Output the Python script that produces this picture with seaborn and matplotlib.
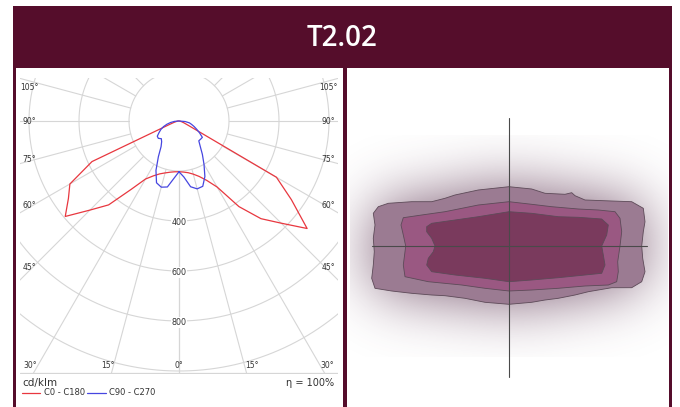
import numpy as np
import pandas as pd
import matplotlib
matplotlib.use("Agg")
import matplotlib.pyplot as plt
import seaborn as sns
from matplotlib.patches import Rectangle
from matplotlib.path import Path

W, H = 680, 407
MAROON = "#550d2b"
GRID = "#d6d6d6"
RED = "#e8373f"
BLUE = "#4646e0"

# luminous intensity, cd/klm, gamma in degrees (0 = straight down)
gamma_red = [0, 5, 10, 15, 20, 25, 30, 35, 40, 45, 50, 55, 60, 65, 70, 75, 80, 90, 180]
c0 = [203, 205, 210, 220, 236, 262, 305, 418, 510, 578, 669, 549, 450, 40, 20, 10, 5, 0, 0]
c180 = [203, 204, 208, 215, 225, 242, 268, 334, 438, 504, 594, 540, 504, 384, 40, 20, 10, 5, 0]

gamma_blue = [0, 5, 10, 15, 20, 25, 30, 35, 40, 45, 50, 55, 60, 65, 70, 75, 80, 85, 90, 180]
c90 = [203, 225, 267, 281, 278, 245, 200, 163, 132, 112, 113, 114, 95, 78, 64, 52, 42, 25, 0, 0]
c270 = [203, 230, 268, 274, 263, 218, 165, 125, 108, 100, 108, 106, 92, 80, 66, 50, 34, 18, 0, 0]

ring_values = [200, 400, 600, 800, 1000]
ring_labels = [400, 600, 800]
side_labels = ["105°", "90°", "75°", "60°", "45°"]
side_label_y = [136, 0, -156, -336, -584]
bottom_labels = ["30°", "15°", "0°", "15°", "30°"]
bottom_label_x = [-594, -286, 0, 290, 594]

# isolux outlines (luminaire at origin)
outer_x = [-13.57, -13.07, -12.07, -9.73, -7.73, -6.4, -5.4, -3.07, 0, 2.27, 3.6, 5.6, 6.27, 6.6, 7.6,
           10.27, 12.27, 13.43, 13.6, 13.43, 13.27, 13.37, 13.6, 13.27, 12.27, 10.27, 7.93, 6.6, 4.93,
           3.6, 2.27, 0, -2.4, -4.4, -6.4, -7.73, -9.73, -11.73, -13.4, -13.73, -13.57, -13.47, -13.57, -13.4]
outer_y = [3.27, 3.93, 4.27, 4.43, 4.43, 4.77, 5.1, 5.6, 5.93, 5.7, 5.27, 5.17, 5.33, 5.03, 4.6,
           4.5, 4.43, 3.77, 2.43, 1.43, 0, -1.23, -2.57, -3.57, -4.17, -4.17, -4.57, -4.9, -5.23,
           -5.4, -5.63, -5.83, -5.63, -5.23, -4.97, -4.9, -4.73, -4.5, -4.23, -3.23, -1.9, -0.57, 0.77, 2.1]
middle_x = [-10.8, -10.57, -8.73, -6.4, -3.07, 0, 2.27, 4.27, 6.93, 8.93, 10.6, 11.1, 11.27, 11.1,
            10.87, 10.93, 10.77, 9.93, 7.6, 4.93, 2.27, 0, -2.4, -4.73, -8.07, -10.4, -10.57, -10.4,
            -10.33, -10.57]
middle_y = [2.1, 2.83, 3.1, 3.43, 4.1, 4.43, 4.17, 3.93, 3.7, 3.6, 3.43, 2.77, 1.43, 0,
            -1.57, -2.57, -3.57, -3.9, -4.0, -4.23, -4.4, -4.5, -4.23, -3.9, -3.57, -3.07, -1.9, -0.57,
            0, 1.1]
inner_x = [-8.23, -8.23, -7.73, -5.4, -3.07, 0, 2.27, 4.93, 6.93, 9.27, 9.93, 9.77, 9.27, 9.43, 9.6,
           9.27, 7.6, 4.93, 2.27, 0, -2.4, -5.4, -7.73, -8.23, -8.07, -7.57, -7.4, -7.73]
inner_y = [1.43, 1.93, 2.27, 2.6, 2.93, 3.43, 3.27, 2.93, 2.87, 2.7, 2.1, 1.1, 0, -0.9, -1.9,
           -2.73, -2.9, -3.17, -3.4, -3.57, -3.23, -2.9, -2.57, -1.9, -1.23, -0.57, 0, 0.77]


def px_rect(x0, y0, x1, y1):
    return [x0 / W, 1 - y1 / H, (x1 - x0) / W, (y1 - y0) / H]


def to_xy(gam, vals, side):
    g = np.radians(gam)
    v = np.asarray(vals, float)
    return side * v * np.sin(g), -v * np.cos(g)


def blur(img, sigma):
    r = int(3 * sigma)
    k = np.exp(-0.5 * (np.arange(-r, r + 1) / sigma) ** 2)
    k /= k.sum()
    img = np.apply_along_axis(lambda v: np.convolve(v, k, mode="same"), 0, img)
    img = np.apply_along_axis(lambda v: np.convolve(v, k, mode="same"), 1, img)
    return img


sns.set_theme(style="white")
plt.rcParams["font.family"] = ["DejaVu Sans"]

fig = plt.figure(figsize=(W / 100, H / 100), dpi=100)
fig.patch.set_facecolor("white")

# frame, header, panels (pixel coordinates)
bg = fig.add_axes([0, 0, 1, 1], zorder=0)
bg.set_xlim(0, W)
bg.set_ylim(H, 0)
bg.axis("off")
bg.add_patch(Rectangle((13, 6), 659, 410, facecolor=MAROON, edgecolor="none"))
bg.add_patch(Rectangle((16, 68), 327, 350, facecolor="white", edgecolor="none"))
bg.add_patch(Rectangle((347, 68), 322, 350, facecolor="white", edgecolor="none"))
bg.text(342.5, 38, "T2.02", color="white", fontsize=20, fontfamily="Open Sans",
        fontweight="semibold", ha="center", va="center")

# legend under the polar diagram
bg.text(22, 383, "cd/klm", fontsize=7.5, color="#333333", ha="left", va="center")
bg.text(334, 383, "η = 100%", fontsize=7, color="#333333", ha="right", va="center")
bg.plot([22, 40], [392.5, 392.5], color=RED, lw=0.9)
bg.text(44, 392.5, "C0 - C180", fontsize=6, color="#333333", ha="left", va="center")
bg.plot([87, 106], [392.5, 392.5], color=BLUE, lw=0.9)
bg.text(109, 392.5, "C90 - C270", fontsize=6, color="#333333", ha="left", va="center")

# polar intensity diagram
ax = fig.add_axes(px_rect(20, 78, 338, 374), zorder=1)
ax.set_facecolor("white")
t = np.linspace(0, 2 * np.pi, 721)
for r in ring_values:
    ax.plot(r * np.sin(t), r * np.cos(t), color=GRID, lw=0.8, zorder=1)
for a in range(0, 181, 15):
    g = np.radians(a)
    for s in (-1, 1):
        ax.plot([s * 200 * np.sin(g), s * 2500 * np.sin(g)],
                [-200 * np.cos(g), -2500 * np.cos(g)], color=GRID, lw=0.8, zorder=1)
ax.axhline(-1008, color=GRID, lw=0.9, zorder=1)

xr1, yr1 = to_xy(gamma_red, c0, 1)
xr2, yr2 = to_xy(gamma_red[::-1], c180[::-1], -1)
xb1, yb1 = to_xy(gamma_blue, c90, 1)
xb2, yb2 = to_xy(gamma_blue[::-1], c270[::-1], -1)
curves = pd.concat([
    pd.DataFrame({"x": np.r_[xr1, xr2], "y": np.r_[yr1, yr2], "plane": "C0 - C180"}),
    pd.DataFrame({"x": np.r_[xb1, xb2], "y": np.r_[yb1, yb2], "plane": "C90 - C270"}),
], ignore_index=True)
sns.lineplot(data=curves, x="x", y="y", hue="plane", sort=False, estimator=None,
             palette={"C0 - C180": RED, "C90 - C270": BLUE}, lw=0.9, legend=False,
             ax=ax, zorder=3)

for v in ring_labels:
    ax.text(0, -v - 6, str(v), fontsize=5.8, color="#333333", ha="center", va="center", zorder=4,
            bbox=dict(facecolor="white", edgecolor="none", pad=0.6))
for lab, y in zip(side_labels, side_label_y):
    ax.text(-598, y, lab, fontsize=5.5, color="#333333", ha="center", va="center", zorder=4)
    ax.text(598, y, lab, fontsize=5.5, color="#333333", ha="center", va="center", zorder=4)
for lab, x in zip(bottom_labels, bottom_label_x):
    ax.text(x, -980, lab, fontsize=5.5, color="#333333", ha="center", va="center", zorder=4)

ax.set_xlim(-636, 636)
ax.set_ylim(-1012, 172)
ax.set_aspect("equal")
ax.axis("off")

# isolux diagram
ax2 = fig.add_axes(px_rect(347, 68, 669, 407), zorder=1)
gx = np.linspace(-15.9, 15.9, 319)
gy = np.linspace(-11.1, 11.1, 223)
XX, YY = np.meshgrid(gx, gy)
outline = Path(np.column_stack([outer_x, outer_y]))
mask = outline.contains_points(np.column_stack([XX.ravel(), YY.ravel()])).reshape(XX.shape)
glow = blur(mask.astype(float), 30)
rgba = np.zeros(XX.shape + (4,))
rgba[..., :3] = matplotlib.colors.to_rgb("#5e3552")
rgba[..., 3] = np.clip(glow * 0.8, 0, 1)
ax2.imshow(rgba, extent=[-15.9, 15.9, -11.1, 11.1], origin="lower",
           interpolation="bilinear", zorder=1)

ax2.fill(outer_x, outer_y, facecolor="#9b7b92", edgecolor="#5d4a58", lw=0.6, zorder=2)
ax2.fill(middle_x, middle_y, facecolor="#9a5882", edgecolor="#5d4a58", lw=0.6, zorder=3)
ax2.fill(inner_x, inner_y, facecolor="#7a3a5d", edgecolor="#5d4a58", lw=0.6, zorder=4)
ax2.plot([0, 0], [-13.1, 12.8], color="#4a4a4a", lw=0.8, zorder=5)
ax2.plot([-13.7, 13.8], [0, 0], color="#4a4a4a", lw=0.8, zorder=5)
ax2.set_xlim(-16.2, 16.0)
ax2.set_ylim(-16.1, 17.8)
ax2.set_aspect("equal")
ax2.axis("off")

fig.savefig("out.png", dpi=100)
